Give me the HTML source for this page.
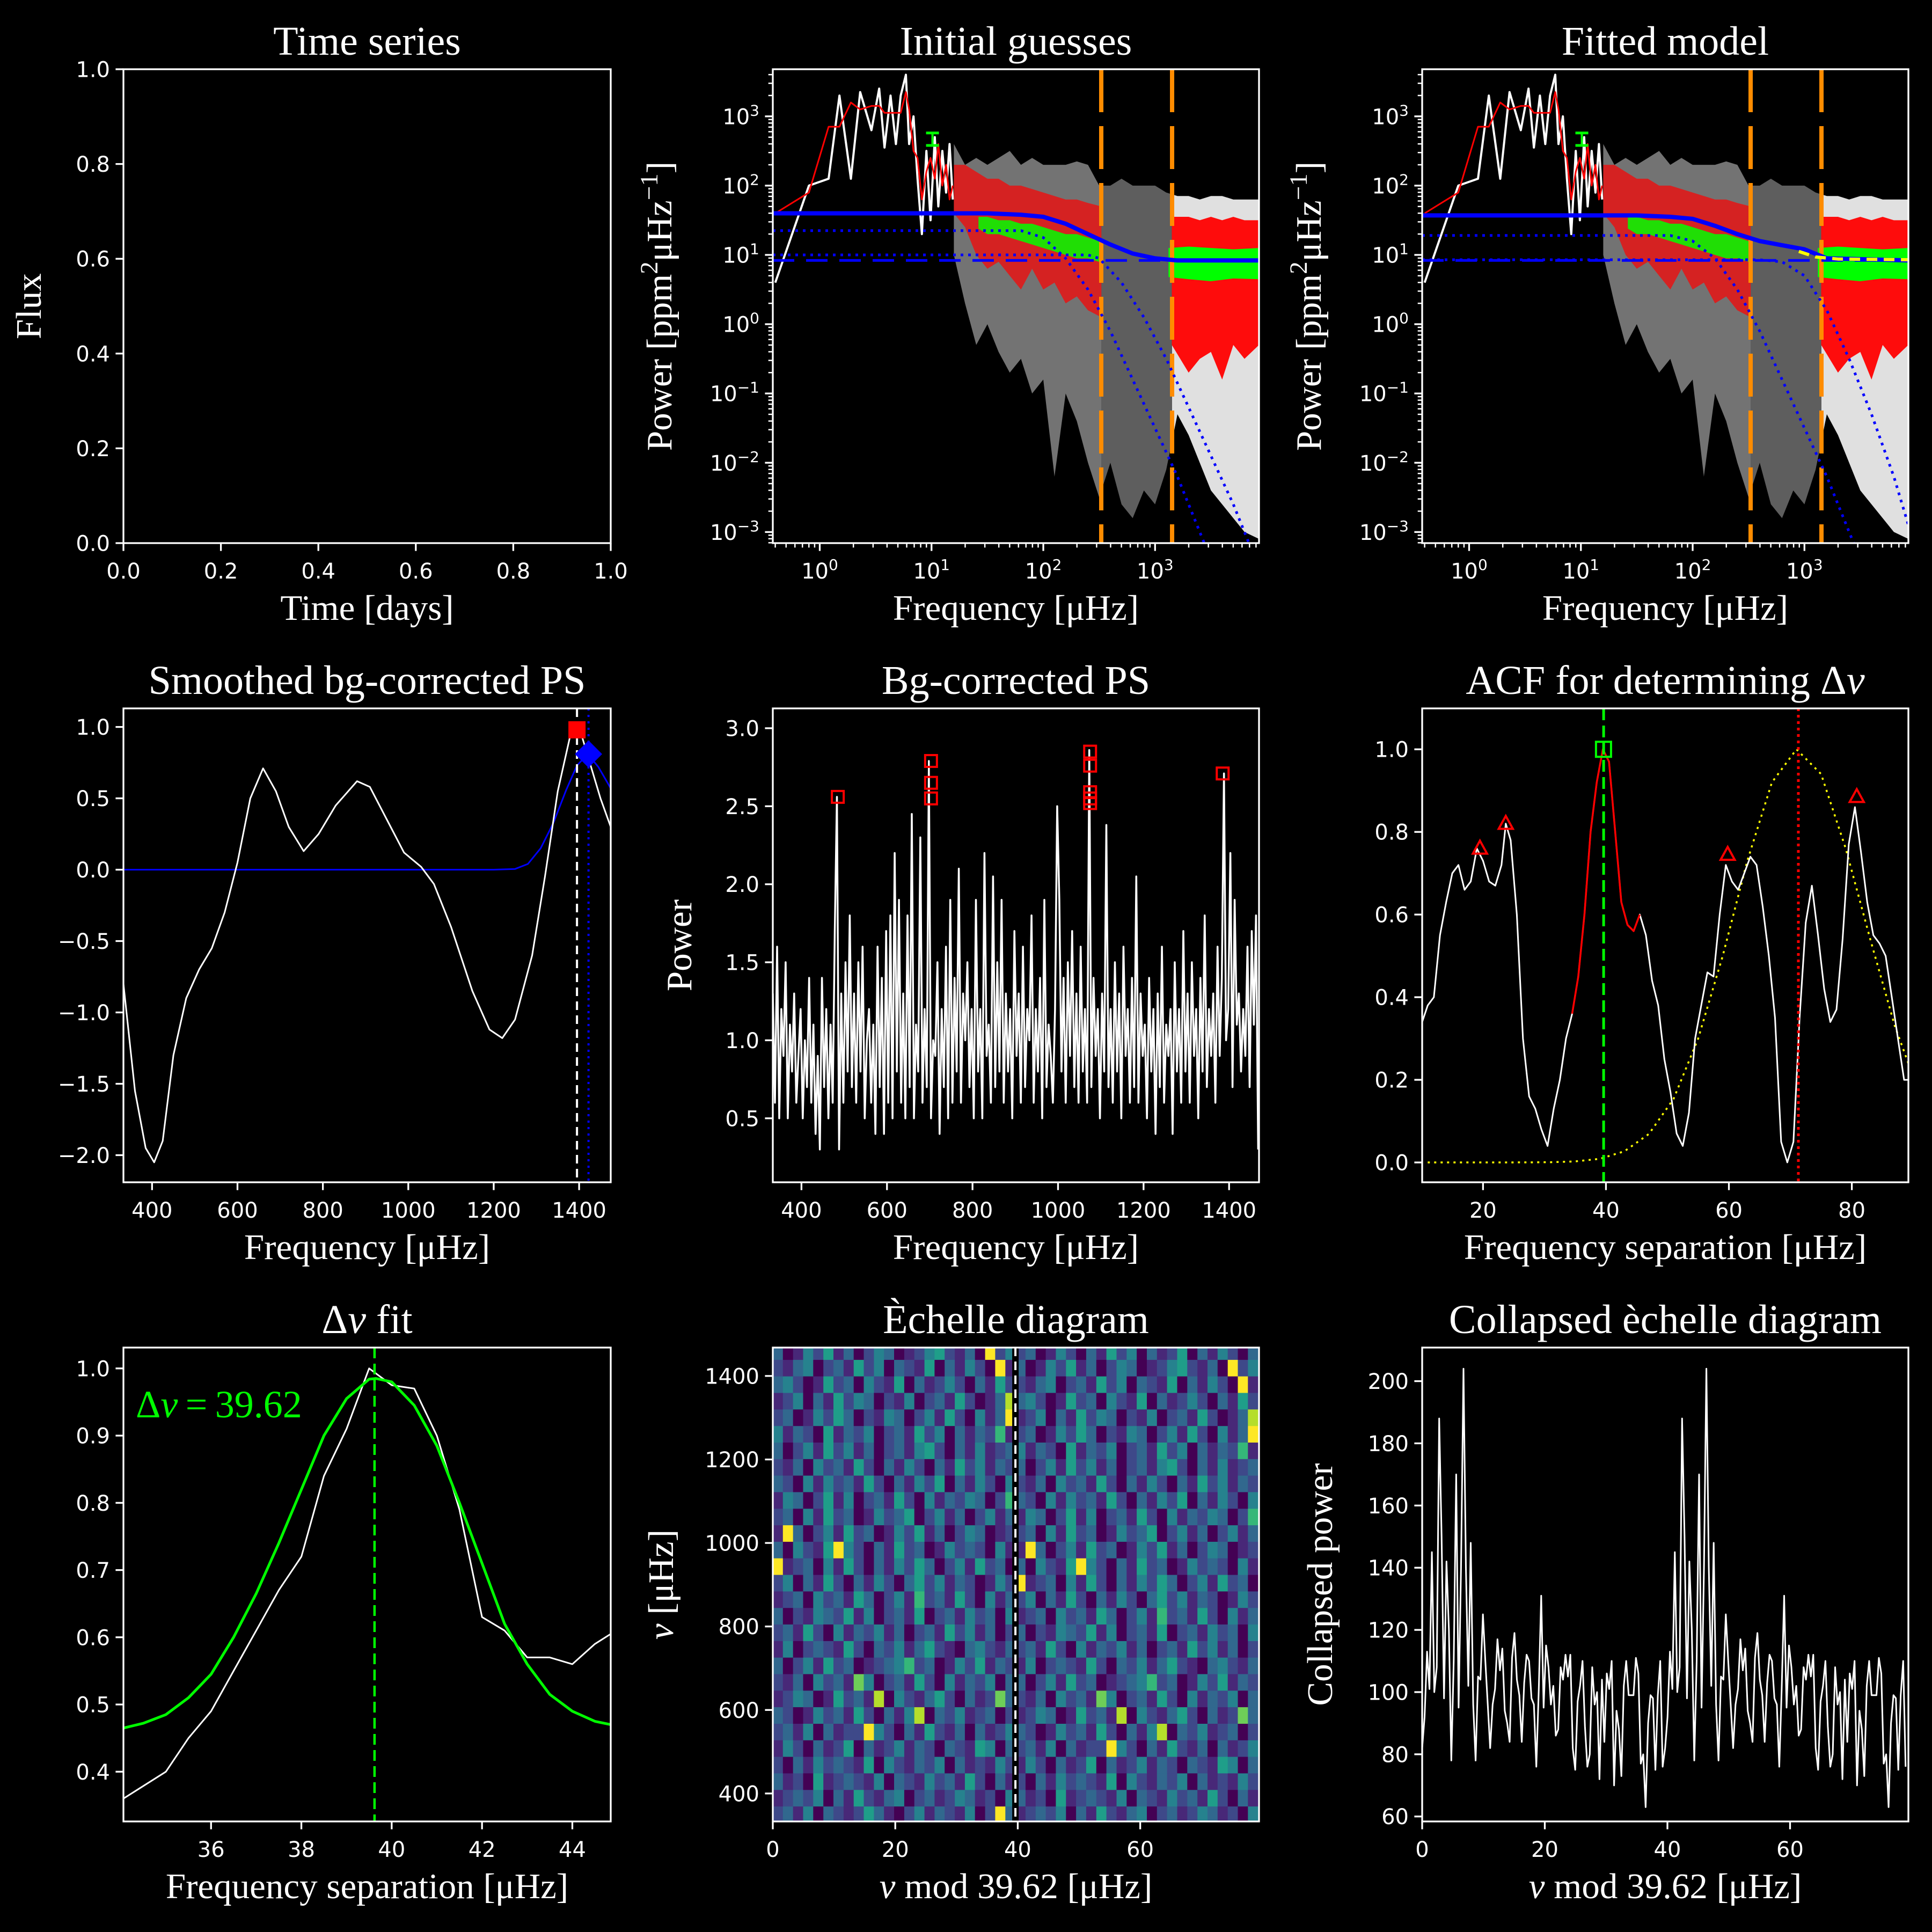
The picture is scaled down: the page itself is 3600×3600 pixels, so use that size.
<!DOCTYPE html>
<html><head><meta charset="utf-8"><title>Seismic analysis panels</title>
<style>html,body{margin:0;padding:0;background:#000;}svg{display:block;}</style>
</head><body>
<svg id="fig" xmlns="http://www.w3.org/2000/svg" width="3600" height="3600" viewBox="0 0 3600 3600">
<rect x="0" y="0" width="3600" height="3600" fill="#000"/>
</svg>
<script>
// ---------- DATA ----------
const lowFreq = [0.4,0.8,1.2,1.5,1.9,2.3,2.9,3.4,3.8,4.3,4.8,5.3,5.9,6.3,6.9,7.5,8.2,9.0,9.8,10.7,11.5,12.5,13.5,14.5,15.5];
const lowWhite = [0.6,2.0,2.1,3.3,2.1,3.35,2.8,3.4,2.55,3.3,2.6,3.3,3.6,2.6,3.0,2.1,1.3,2.5,1.5,2.7,1.7,2.5,1.9,2.6,1.8];
const lowRed = [1.6,1.9,2.85,2.85,3.2,3.1,3.15,3.15,3.05,3.05,3.05,3.05,3.35,3.1,2.5,2.4,1.8,2.2,2.4,2.1,2.6,2.0,2.3,1.8,2.0];
const binLogF = [1.2,1.3,1.4,1.5,1.6,1.7,1.8,1.9,2.0,2.1,2.2,2.3,2.4,2.5,2.6,2.7,2.8,2.9,3.0,3.1,3.2,3.3,3.4,3.5,3.6,3.7,3.8,3.93];
const whiteMax = [2.6,2.3,2.4,2.3,2.4,2.5,2.3,2.4,2.3,2.3,2.3,2.35,2.3,2.0,2.0,2.1,2.0,2.0,2.0,1.9,1.85,1.85,1.8,1.85,1.85,1.8,1.8,1.8];
const whiteMin = [1.0,0.3,-0.3,0.0,-0.4,-0.7,-0.5,-1.0,-0.8,-2.2,-1.0,-1.4,-2.0,-2.5,-2.0,-2.6,-2.8,-2.4,-2.6,-2.1,-1.3,-1.6,-2.0,-2.4,-2.6,-2.8,-3.0,-3.1];
const redLoF = [1.2,1.3,1.4,1.5,1.6,1.7,1.8,1.9,2.0,2.1,2.2,2.3,2.4,2.52];
const redLoMax = [2.3,2.3,2.2,2.1,2.1,2.0,2.0,1.95,1.9,1.85,1.8,1.8,1.75,1.7];
const redLoMin = [1.6,1.4,1.0,0.8,0.9,0.7,0.5,0.8,0.5,0.6,0.3,0.4,0.2,0.1];
const redHiF = [3.15,3.3,3.4,3.5,3.6,3.7,3.8,3.93];
const redHiMax = [1.55,1.55,1.5,1.55,1.5,1.55,1.5,1.5];
const redHiMin = [-0.3,-0.7,-0.5,-0.4,-0.8,-0.3,-0.5,-0.3];
const grnLoF = [1.42,1.5,1.6,1.7,1.8,1.9,2.0,2.1,2.2,2.3,2.4,2.5];
const grnLoMax = [1.55,1.55,1.5,1.5,1.45,1.45,1.4,1.35,1.3,1.3,1.25,1.2];
const grnLoMin = [1.38,1.3,1.3,1.25,1.2,1.15,1.1,1.05,1.0,0.95,0.95,0.9];
const grnHiF = [3.12,3.3,3.5,3.7,3.93];
const grnHiMax = [1.1,1.12,1.1,1.08,1.1];
const grnHiMin = [0.68,0.65,0.62,0.66,0.65];
const numaxRange = [330,1420];
const errBar = [10.2, 2.58, 2.76];
const initTotF = [-0.42,1.0,1.5,1.8,2.0,2.2,2.4,2.6,2.8,3.0,3.2,3.93];
const initTotP = [1.6,1.6,1.6,1.58,1.55,1.45,1.3,1.15,1.02,0.95,0.92,0.92];
const initC1F = [-0.42,1.8,2.0,2.2,2.4,2.6,2.8,3.0,3.2,3.4,3.55];
const initC1P = [1.35,1.35,1.25,0.95,0.5,-0.1,-0.8,-1.5,-2.2,-3.0,-3.6];
const initC2F = [-0.42,2.4,2.5,2.7,2.9,3.1,3.3,3.5,3.7,3.85];
const initC2P = [1.0,1.0,0.95,0.6,0.1,-0.5,-1.2,-1.9,-2.6,-3.2];
const whiteNoise1 = 0.92;
const fitTotF = [-0.42,1.0,1.5,1.8,2.0,2.2,2.4,2.6,2.8,3.0,3.2,3.93];
const fitTotP = [1.57,1.57,1.57,1.55,1.52,1.42,1.3,1.2,1.14,1.08,0.95,0.92];
const fitC1F = [-0.42,1.8,2.0,2.2,2.4,2.6,2.8,3.0,3.2,3.4,3.55];
const fitC1P = [1.28,1.28,1.2,0.95,0.5,-0.1,-0.8,-1.5,-2.2,-3.0,-3.6];
const fitC2F = [-0.42,2.6,2.8,3.0,3.2,3.4,3.6,3.8,3.93];
const fitC2P = [0.93,0.93,0.9,0.7,0.2,-0.5,-1.3,-2.2,-2.9];
const fitYelF = [2.95,3.1,3.3,3.93];
const fitYelP = [1.05,0.97,0.94,0.93];
const smF = [333,360,385,405,425,450,480,510,540,570,600,630,660,690,720,755,790,830,880,910,950,990,1030,1060,1100,1150,1190,1220,1250,1290,1320,1350,1380,1400,1420,1450,1474];
const smV = [-0.8,-1.55,-1.95,-2.05,-1.9,-1.3,-0.9,-0.7,-0.55,-0.3,0.05,0.5,0.71,0.55,0.3,0.13,0.25,0.45,0.62,0.58,0.35,0.12,0.02,-0.1,-0.4,-0.85,-1.12,-1.18,-1.05,-0.6,-0.05,0.55,0.95,1.0,0.8,0.5,0.3];
const gaussF = [333,1200,1250,1280,1310,1340,1370,1395,1420,1445,1474];
const gaussV = [0,0,0.005,0.04,0.15,0.33,0.56,0.73,0.81,0.72,0.57];
const smPeak = [1395,0.98];
const numaxFit = [1422,0.81];
const psStart = 333, psStep = 5;
const psVals = [1.3,0.6,1.6,0.5,1.2,0.9,1.5,0.5,1.1,0.8, 1.3,0.6,0.9,1.2,0.5,1.0,0.7,1.4,0.6,1.1, 0.4,0.9,0.3,1.4,0.7,1.2,0.5,1.1,0.6,1.7,
 2.56,0.3,1.3,0.6,1.5,0.8,1.8,0.7,1.3,0.6, 1.5,0.8,1.6,0.5,1.0,1.2,0.6,1.1,0.4,1.6, 0.7,1.4,0.4,1.7,0.6,1.8,0.5,2.2,0.8,1.9,
 0.6,1.3,0.5,1.8,0.7,2.45,0.5,1.1,0.8,2.3, 0.6,1.2,0.7,2.79,0.5,1.0,0.9,1.5,0.4,1.2, 0.7,1.6,0.5,1.9,0.6,1.4,0.8,2.1,0.6,1.3,
 1.0,1.5,0.7,1.2,0.5,1.9,0.8,1.2,0.5,2.2, 0.9,1.1,0.6,2.05,0.7,1.5,0.8,1.9,0.6,1.3, 0.8,1.2,0.5,1.7,0.9,1.3,0.6,1.6,0.7,1.2,
 1.0,1.8,0.6,1.2,0.8,1.4,0.5,1.9,0.7,1.1, 0.9,0.6,1.2,2.5,1.9,0.8,1.4,0.6,1.5,0.9, 1.7,0.7,1.3,0.6,1.6,0.8,1.2,0.6,2.86,0.7,
 1.4,0.9,1.2,0.5,1.3,0.8,2.38,0.7,1.2,0.6, 1.5,0.8,1.3,0.5,1.6,0.9,1.2,0.6,1.4,0.7, 2.05,0.6,1.3,0.9,1.1,0.5,1.4,0.8,1.2,0.4,
 1.3,0.7,1.6,0.6,1.1,0.9,1.2,0.4,1.5,0.8, 1.2,0.6,1.7,0.8,1.3,0.6,1.5,0.9,1.2,0.5, 1.4,0.8,1.8,0.7,1.2,0.9,1.3,0.6,1.6,0.9,
 1.4,2.71,1.0,1.2,2.2,0.7,1.9,1.1,1.3,0.8, 1.2,0.9,1.6,0.7,1.7,1.1,1.8,0.3];
const peakF = [485,703,703,703,1075,1075,1075,1075,1075,1385];
const peakP = [2.56,2.79,2.65,2.55,2.85,2.76,2.59,2.55,2.52,2.71];
const acfX = [10.1,11,12,13,14,15,16,17,18,19,20,21,22,23,23.7,24.5,25.5,26.5,27.5,28.5,29.5,30.5,31.5,32.5,33.5,34.5,35.5,36.5,37.5,38.5,39.5,40.5,41.5,42.5,43.5,44.5,45.5,46.5,47.5,48.5,49.5,50.5,51.5,52.5,53.5,54.5,55.5,56.5,57.5,58.5,59.5,60.5,61.5,62.5,63.5,64.5,65.5,66.5,67.5,68.5,69.5,70.5,71.5,72.5,73.5,74.5,75.5,76.5,77.5,78.5,79.5,80.5,81.5,82.5,83.5,84.5,85.5,86.5,87.5,88.5,89.2];
const acfY = [0.34,0.38,0.4,0.55,0.63,0.7,0.72,0.66,0.68,0.76,0.73,0.68,0.67,0.72,0.82,0.78,0.6,0.3,0.16,0.13,0.08,0.04,0.13,0.2,0.3,0.36,0.45,0.6,0.8,0.92,1.0,0.97,0.8,0.63,0.575,0.56,0.6,0.55,0.44,0.38,0.25,0.17,0.07,0.04,0.12,0.3,0.38,0.46,0.45,0.6,0.72,0.68,0.66,0.7,0.74,0.72,0.62,0.5,0.35,0.05,0.0,0.05,0.35,0.58,0.67,0.55,0.42,0.34,0.37,0.54,0.77,0.86,0.75,0.63,0.55,0.53,0.5,0.4,0.3,0.2,0.2];
const acfRedRange = [34.4,45.5];
const envX = [11,15,19,23,27,31,35,39,43,47,51,55,59,63,67,71,75,79,83,87,89.2];
const envY = [0,0,0,0.0001,0.0002,0.0006,0.0025,0.0088,0.027,0.069,0.154,0.30,0.50,0.73,0.92,1.0,0.94,0.76,0.54,0.33,0.24];
const acfPeaksX = [19.5,23.7,59.8,80.8];
const acfPeaksY = [0.76,0.82,0.745,0.885];
const dnuGuess = 39.62, dnuBest = [39.6,1.0], numaxLine = 71.3;
const fitX = [34.06,35,35.5,36,36.5,37,37.5,38,38.5,39,39.5,40,40.5,41,41.5,42,42.5,43,43.5,44,44.5,44.85];
const fitY = [0.36,0.40,0.45,0.49,0.55,0.61,0.67,0.72,0.84,0.91,1.0,0.975,0.97,0.9,0.79,0.63,0.61,0.57,0.57,0.56,0.59,0.605];
const gfitX = [34.06,34.5,35,35.5,36,36.5,37,37.5,38,38.5,39,39.5,39.65,40,40.5,41,41.5,42,42.5,43,43.5,44,44.5,44.85];
const gfitY = [0.465,0.472,0.485,0.51,0.545,0.6,0.665,0.74,0.82,0.9,0.955,0.984,0.985,0.98,0.945,0.885,0.8,0.71,0.62,0.56,0.515,0.49,0.475,0.47];
const dnuValue = 39.62;
const echStart = 330;
const echRows = ["231403212531024132140293","123240315213402312431204","312051232140321423152031","203142321504213240312142","142031250312413203215403",
"231403122942031521303124","320142315203148032412302","124301523180421352031273","213042317402315204132403","302415230123462301425132",
"140232152032413521034213","231520413241302315241302","302143251402315023142304","123042315302416231520413","240315203142035241320142",
"912304152031425302415230","304215942031523014232041","193024152301425130243012","230415230142350241302413","143025140231520413243026",
"320414231520314250314204","213042315203142031524132","302415241302314520314123","413205132402315240313261","230142530214302415204139",
"124031524302140231520138","342015230421503124203152","213402315240321503142091","301425130243012452130924","230142031524031250314203"];
const colVals = [82,92,113,101,145,100,108,188,150,98,142,120,78,110,170,95,140,204,140,102,148,96,78,105,104,125,110,96,82,96,101,117,107,114,94,90,84,111,119,104,99,84,103,112,110,98,96,76,101,131,95,115,108,96,102,86,88,108,104,112,105,112,82,75,97,102,110,89,76,80,108,96,100,72,104,84,106,101,110,70,94,88,73,102,110,99,99,99,111,106,77,80,63,90,99,98,75,99,110,76];

// ---------- DRAWING ----------
const NS='http://www.w3.org/2000/svg';
const svg=document.getElementById('fig');
const SANS='"DejaVu Sans","Liberation Sans",sans-serif';
const SERIF='"Liberation Serif","DejaVu Serif",serif';
const VIR=['#440154','#482878','#3e4989','#31688e','#26828e','#1f9e89','#35b779','#6ece58','#b5de2b','#fde725'];
function mk(parent,tag,attrs,name){
  const el=document.createElementNS(NS,tag);
  for(const k in attrs){el.setAttribute(k,attrs[k]);}
  
  
  parent.appendChild(el);
  return el;
}
function text(parent,x,y,parts,o,name){
  const attrs={x:x,y:y,'text-anchor':o.anchor||'middle','font-size':o.size,'font-family':o.fam||SANS,fill:o.fill||'#fff'};
  if(o.rot){attrs.transform='rotate(-90 '+x+' '+y+')';}
  const t=mk(parent,'text',attrs,name);
  parts.forEach(function(pt){
    if(typeof pt==='string'){t.appendChild(document.createTextNode(pt));}
    else{
      const a={};
      if(pt.sup){a['baseline-shift']='super';a['font-size']=Math.round(o.size*0.7);}
      if(pt.it){a['font-style']='italic';}
      const s=mk(t,'tspan',a,name+'-part');
      s.textContent=pt.t;
    }
  });
  return t;
}
let clipN=0;
function panel(name,px0,px1,py0,py1,dx0,dx1,dy0,dy1){
  const g=mk(svg,'g',{},name);
  const p={g:g,px0:px0,px1:px1,py0:py0,py1:py1};
  p.sx=function(v){return px0+(v-dx0)/(dx1-dx0)*(px1-px0);};
  p.sy=function(v){return py1-(v-dy0)/(dy1-dy0)*(py1-py0);};
  const id='clip'+(clipN++);
  const cp=mk(g,'clipPath',{id:id},name+'-clip');
  mk(cp,'rect',{x:px0,y:py0,width:px1-px0,height:py1-py0},name+'-clip-rect');
  p.data=mk(g,'g',{'clip-path':'url(#'+id+')'},name+'-plot-area');
  return p;
}
function frame(p,name){
  mk(p.g,'rect',{x:p.px0,y:p.py0,width:p.px1-p.px0,height:p.py1-p.py0,fill:'none',stroke:'#fff','stroke-width':3.3},name+'-frame');
}
function xTicks(p,vals,labels,name){
  vals.forEach(function(v,i){
    const x=p.sx(v);
    mk(p.g,'line',{x1:x,x2:x,y1:p.py1,y2:p.py1+14.6,stroke:'#fff','stroke-width':3.3},name+'-tick');
    text(p.g,x,p.py1+66,labels[i],{size:40},name+'-tick-label');
  });
}
function yTicks(p,vals,labels,name){
  vals.forEach(function(v,i){
    const y=p.sy(v);
    mk(p.g,'line',{x1:p.px0-14.6,x2:p.px0,y1:y,y2:y,stroke:'#fff','stroke-width':3.3},name+'-tick');
    text(p.g,p.px0-25,y+14.5,labels[i],{size:40,anchor:'end'},name+'-tick-label');
  });
}
function minorX(p,vals,name){vals.forEach(function(v){const x=p.sx(v);mk(p.g,'line',{x1:x,x2:x,y1:p.py1,y2:p.py1+8.3,stroke:'#fff','stroke-width':2.5},name+'-minor-tick');});}
function minorY(p,vals,name){vals.forEach(function(v){const y=p.sy(v);mk(p.g,'line',{x1:p.px0-8.3,x2:p.px0,y1:y,y2:y,stroke:'#fff','stroke-width':2.5},name+'-minor-tick');});}
function title(p,parts,name){text(p.g,(p.px0+p.px1)/2,p.py0-27,parts,{size:76,fam:SERIF},name);}
function xlabel(p,parts,name){text(p.g,(p.px0+p.px1)/2,p.py1+143,parts,{size:67,fam:SERIF},name);}
function ylabel(p,x,parts,name){text(p.g,x,(p.py0+p.py1)/2,parts,{size:67,fam:SERIF,rot:true},name);}
function pts(p,xs,ys){return xs.map(function(x,i){return p.sx(x).toFixed(1)+','+p.sy(ys[i]).toFixed(1);}).join(' ');}
function line(p,xs,ys,st,name){
  const a={points:pts(p,xs,ys),fill:'none',stroke:st.c,'stroke-width':st.w||3,'stroke-linejoin':'round'};
  if(st.dash){a['stroke-dasharray']=st.dash;}
  if(st.cap){a['stroke-linecap']=st.cap;}
  return mk(p.data,'polyline',a,name);
}
function band(p,xs,hi,lo,color,name,clip,op){
  const up=xs.map(function(x,i){return p.sx(x).toFixed(1)+','+p.sy(hi[i]).toFixed(1);});
  const dn=xs.map(function(x,i){return p.sx(x).toFixed(1)+','+p.sy(lo[i]).toFixed(1);}).reverse();
  const a={points:up.concat(dn).join(' '),fill:color,stroke:'none','fill-opacity':op||1};
  if(clip){a['clip-path']=clip;}
  return mk(p.data,'polygon',a,name);
}
function vline(p,x,st,name){
  const a={x1:p.sx(x),x2:p.sx(x),y1:p.py0,y2:p.py1,stroke:st.c,'stroke-width':st.w};
  if(st.dash){a['stroke-dasharray']=st.dash;}
  return mk(p.data,'line',a,name);
}
function marker(p,x,y,shape,st,name){
  const cx=p.sx(x),cy=p.sy(y),s=st.s;
  if(shape==='square'){return mk(p.data,'rect',{x:cx-s/2,y:cy-s/2,width:s,height:s,fill:st.fill||'none',stroke:st.c,'stroke-width':st.w},name);}
  let d;
  if(shape==='tri'){d=[[cx,cy-s*0.6],[cx+s*0.55,cy+s*0.4],[cx-s*0.55,cy+s*0.4]];}
  else {d=[[cx,cy-s*0.6],[cx+s*0.6,cy],[cx,cy+s*0.6],[cx-s*0.6,cy]];}
  return mk(p.data,'polygon',{points:d.map(function(q){return q.join(',');}).join(' '),fill:st.fill||'none',stroke:st.c,'stroke-width':st.w},name);
}
const COLS=[[230,1138],[1440,2346],[2650,3556]];
const ROWS=[[129,1012],[1320,2203],[2511,3394]];
function fmt1(v){return (v<0?'\u2212':'')+Math.abs(v).toFixed(1);}
function range(a,b,s){const r=[];for(let v=a;v<=b+1e-9;v+=s){r.push(Math.round(v*1000)/1000);}return r;}

(function(){
  const p=panel('time-series-panel',COLS[0][0],COLS[0][1],ROWS[0][0],ROWS[0][1],0,1,0,1);
  const t=range(0,1,0.2);
  xTicks(p,t,t.map(function(v){return [v.toFixed(1)];}),'time-x');
  yTicks(p,t,t.map(function(v){return [v.toFixed(1)];}),'flux-y');
  frame(p,'time-series');
  title(p,['Time series'],'time-series-title');
  xlabel(p,['Time [days]'],'time-x-axis-title');
  ylabel(p,76,['Flux'],'flux-y-axis-title');
})();

function logPanel(col,name,ttl,model){
  const p=panel(name,COLS[col][0],COLS[col][1],ROWS[0][0],ROWS[0][1],-0.42,3.93,-3.16,3.68);
  const lo=Math.log10(numaxRange[0]),hi=Math.log10(numaxRange[1]);
  const cidL=name+'-left',cidR=name+'-right',cidI=name+'-inside';
  const c1=mk(p.g,'clipPath',{id:cidL},name+'-left-clip');
  mk(c1,'rect',{x:p.px0,y:p.py0,width:p.sx(lo)-p.px0,height:p.py1-p.py0},name+'-clip-left');
  const c3=mk(p.g,'clipPath',{id:cidR},name+'-right-clip');
  mk(c3,'rect',{x:p.sx(hi),y:p.py0,width:p.px1-p.sx(hi),height:p.py1-p.py0},name+'-clip-right');
  const c2=mk(p.g,'clipPath',{id:cidI},name+'-inside-clip');
  mk(c2,'rect',{x:p.sx(lo),y:p.py0,width:p.sx(hi)-p.sx(lo),height:p.py1-p.py0},name+'-clip-mid');
  const lf=lowFreq.map(function(f){return Math.log10(f);});
  line(p,lf,lowWhite,{c:'#fff',w:4},name+'-raw-spectrum-low');
  band(p,binLogF,whiteMax,whiteMin,'#ffffff',name+'-raw-spectrum','url(#'+cidL+')',0.45);
  band(p,binLogF,whiteMax,whiteMin,'#ffffff',name+'-raw-spectrum-high','url(#'+cidR+')',0.88);
  band(p,binLogF,whiteMax,whiteMin,'#6e6e6e',name+'-raw-spectrum-numax-range','url(#'+cidI+')',0.85);
  line(p,lf,lowRed,{c:'#ff0000',w:3},name+'-smoothed-spectrum-low');
  band(p,redLoF,redLoMax,redLoMin,'#ff0000',name+'-smoothed-spectrum',null,0.7);
  band(p,redHiF,redHiMax,redHiMin,'#ff0000',name+'-smoothed-spectrum-high',null,0.95);
  band(p,grnLoF,grnLoMax,grnLoMin,'#00ff00',name+'-binned-spectrum',null,0.85);
  band(p,grnHiF,grnHiMax,grnHiMin,'#00ff00',name+'-binned-spectrum-high');
  const ex=p.sx(Math.log10(errBar[0]));
  mk(p.data,'line',{x1:ex,x2:ex,y1:p.sy(errBar[1]),y2:p.sy(errBar[2]),stroke:'#00ff00','stroke-width':4},name+'-error-bar');
  mk(p.data,'line',{x1:ex-12,x2:ex+12,y1:p.sy(errBar[1]),y2:p.sy(errBar[1]),stroke:'#00ff00','stroke-width':5},name+'-error-cap');
  mk(p.data,'line',{x1:ex-12,x2:ex+12,y1:p.sy(errBar[2]),y2:p.sy(errBar[2]),stroke:'#00ff00','stroke-width':5},name+'-error-cap');
  vline(p,lo,{c:'#ff8c00',w:8,dash:'80 26'},name+'-numax-lower-bound');
  vline(p,hi,{c:'#ff8c00',w:8,dash:'80 26'},name+'-numax-upper-bound');
  line(p,model.c1f,model.c1p,{c:'#0000ff',w:5,dash:'5 9'},name+'-harvey-1');
  line(p,model.c2f,model.c2p,{c:'#0000ff',w:5,dash:'5 9'},name+'-harvey-2');
  line(p,[-0.42,3.93],[whiteNoise1,whiteNoise1],{c:'#0000ff',w:5,dash:'40 22'},name+'-white-noise');
  line(p,model.tf,model.tp,{c:'#0000ff',w:8},name+'-total-model');
  if(model.yf){line(p,model.yf,model.yp,{c:'#ffff00',w:6,dash:'20 12'},name+'-fit-yellow');}
  const maj=[0,1,2,3];
  xTicks(p,maj,maj.map(function(k){return ['10',{t:String(k),sup:true}];}),name+'-x');
  const mx=[];for(let d=-1;d<=3;d++){for(let k=2;k<=9;k++){const v=d+Math.log10(k);if(v>-0.42&&v<3.93)mx.push(v);}}
  minorX(p,mx,name+'-x');
  const ym=[-3,-2,-1,0,1,2,3];
  yTicks(p,ym,ym.map(function(k){return ['10',{t:(k<0?'\u2212':'')+Math.abs(k),sup:true}];}),name+'-y');
  const my=[];for(let d=-4;d<=3;d++){for(let k=2;k<=9;k++){const v=d+Math.log10(k);if(v>-3.16&&v<3.68)my.push(v);}}
  minorY(p,my,name+'-y');
  frame(p,name);
  title(p,[ttl],name+'-title');
  xlabel(p,['Frequency [\u03bcHz]'],name+'-x-axis-title');
  ylabel(p,COLS[col][0]-189,['Power [ppm',{t:'2',sup:true},'\u03bcHz',{t:'\u22121',sup:true},']'],name+'-y-axis-title');
}
logPanel(1,'initial-guesses-panel','Initial guesses',{tf:initTotF,tp:initTotP,c1f:initC1F,c1p:initC1P,c2f:initC2F,c2p:initC2P});
logPanel(2,'fitted-model-panel','Fitted model',{tf:fitTotF,tp:fitTotP,c1f:fitC1F,c1p:fitC1P,c2f:fitC2F,c2p:fitC2P,yf:fitYelF,yp:fitYelP});

(function(){
  const p=panel('smoothed-ps-panel',COLS[0][0],COLS[0][1],ROWS[1][0],ROWS[1][1],333,1474,-2.19,1.13);
  line(p,gaussF,gaussV,{c:'#0000ff',w:3},'numax-gaussian-fit');
  line(p,smF,smV,{c:'#fff',w:3},'smoothed-ps-line');
  vline(p,smPeak[0],{c:'#fff',w:4,dash:'16 10'},'numax-smoothed-line');
  vline(p,numaxFit[0],{c:'#0000ff',w:4,dash:'4 8'},'numax-fit-line');
  marker(p,smPeak[0],smPeak[1],'square',{s:30,c:'#ff0000',w:2,fill:'#ff0000'},'smoothed-peak-marker');
  marker(p,numaxFit[0],numaxFit[1],'diamond',{s:40,c:'#0000ff',w:2,fill:'#0000ff'},'numax-fit-marker');
  const xt=range(400,1400,200);
  xTicks(p,xt,xt.map(function(v){return [String(v)];}),'smoothed-x');
  const yt=range(-2,1,0.5);
  yTicks(p,yt,yt.map(function(v){return [fmt1(v)];}),'smoothed-y');
  frame(p,'smoothed-ps');
  title(p,['Smoothed bg-corrected PS'],'smoothed-ps-title');
  xlabel(p,['Frequency [\u03bcHz]'],'smoothed-x-axis-title');
})();

(function(){
  const p=panel('bg-corrected-ps-panel',COLS[1][0],COLS[1][1],ROWS[1][0],ROWS[1][1],333,1470,0.09,3.127);
  const xs=psVals.map(function(v,i){return psStart+i*psStep;});
  line(p,xs,psVals,{c:'#fff',w:3.5},'bg-corrected-ps-line');
  peakF.forEach(function(f,i){marker(p,f,peakP[i],'square',{s:22,c:'#ff0000',w:4},'peak-marker');});
  const xt=range(400,1400,200);
  xTicks(p,xt,xt.map(function(v){return [String(v)];}),'bgps-x');
  const yt=range(0.5,3.0,0.5);
  yTicks(p,yt,yt.map(function(v){return [v.toFixed(1)];}),'bgps-y');
  frame(p,'bg-corrected-ps');
  title(p,['Bg-corrected PS'],'bg-corrected-ps-title');
  xlabel(p,['Frequency [\u03bcHz]'],'bgps-x-axis-title');
  ylabel(p,1288,['Power'],'bgps-y-axis-title');
})();

(function(){
  const p=panel('acf-panel',COLS[2][0],COLS[2][1],ROWS[1][0],ROWS[1][1],10.1,89.2,-0.048,1.099);
  line(p,envX,envY,{c:'#ffff00',w:3.5,dash:'4 8'},'acf-gaussian-envelope');
  line(p,acfX,acfY,{c:'#fff',w:3},'acf-line');
  const rx=[],ry=[];
  acfX.forEach(function(x,i){if(x>=acfRedRange[0]&&x<=acfRedRange[1]){rx.push(x);ry.push(acfY[i]);}});
  line(p,rx,ry,{c:'#ff0000',w:3.5},'acf-dnu-region');
  vline(p,dnuGuess,{c:'#00ff00',w:5,dash:'22 10'},'dnu-line');
  vline(p,numaxLine,{c:'#ff0000',w:5,dash:'5 7'},'acf-numax-line');
  acfPeaksX.forEach(function(x,i){marker(p,x,acfPeaksY[i],'tri',{s:24,c:'#ff0000',w:4},'acf-peak-marker');});
  marker(p,dnuBest[0],dnuBest[1],'square',{s:28,c:'#00ff00',w:4},'dnu-best-marker');
  const xt=[20,40,60,80];
  xTicks(p,xt,xt.map(function(v){return [String(v)];}),'acf-x');
  const yt=range(0,1,0.2);
  yTicks(p,yt,yt.map(function(v){return [v.toFixed(1)];}),'acf-y');
  frame(p,'acf');
  title(p,['ACF for determining \u0394',{t:'\u03bd',it:true}],'acf-title');
  xlabel(p,['Frequency separation [\u03bcHz]'],'acf-x-axis-title');
})();

(function(){
  const p=panel('dnu-fit-panel',COLS[0][0],COLS[0][1],ROWS[2][0],ROWS[2][1],34.06,44.85,0.326,1.031);
  line(p,fitX,fitY,{c:'#fff',w:3},'dnu-acf-line');
  line(p,gfitX,gfitY,{c:'#00ff00',w:5},'dnu-gaussian-fit');
  vline(p,dnuValue,{c:'#00ff00',w:4.5,dash:'20 10'},'dnu-value-line');
  const xt=[36,38,40,42,44];
  xTicks(p,xt,xt.map(function(v){return [String(v)];}),'dnu-x');
  const yt=range(0.4,1.0,0.1);
  yTicks(p,yt,yt.map(function(v){return [v.toFixed(1)];}),'dnu-y');
  frame(p,'dnu-fit');
  text(p.g,p.px0+23,p.py0+130,['\u0394',{t:'\u03bd',it:true},'\u2009=\u2009'+dnuValue.toFixed(2)],{size:72,fam:SERIF,anchor:'start',fill:'#00ff00'},'dnu-annotation');
  title(p,['\u0394',{t:'\u03bd',it:true},' fit'],'dnu-fit-title');
  xlabel(p,['Frequency separation [\u03bcHz]'],'dnu-x-axis-title');
})();

(function(){
  const p=panel('echelle-panel',COLS[1][0],COLS[1][1],ROWS[2][0],ROWS[2][1],0,79.4,333,1468);
  const nc=echRows[0].length, cw=dnuValue/nc;
  for(let r=0;r<echRows.length-1;r++){
    const y0=echStart+r*dnuValue;
    for(let half=0;half<2;half++){
      const rowStr=echRows[r+half];
      for(let c=0;c<nc;c++){
        const v=+rowStr[c];
        const x0=half*dnuValue+c*cw;
        const X=p.sx(x0),Y=p.sy(y0+dnuValue);
        mk(p.data,'rect',{x:X.toFixed(1),y:Y.toFixed(1),width:(p.sx(x0+cw)-X+0.6).toFixed(1),height:(p.sy(y0)-Y+0.6).toFixed(1),fill:VIR[v]},'echelle-cell');
      }
    }
  }
  vline(p,dnuValue,{c:'#000',w:12},'echelle-gap');
  vline(p,dnuValue,{c:'#fff',w:4,dash:'16 10'},'echelle-dnu-line');
  const xt=[0,20,40,60];
  xTicks(p,xt,xt.map(function(v){return [String(v)];}),'echelle-x');
  const yt=range(400,1400,200);
  yTicks(p,yt,yt.map(function(v){return [String(v)];}),'echelle-y');
  frame(p,'echelle');
  title(p,['\u00c8chelle diagram'],'echelle-title');
  xlabel(p,[{t:'\u03bd',it:true},' mod '+dnuValue.toFixed(2)+' [\u03bcHz]'],'echelle-x-axis-title');
  ylabel(p,1254,[{t:'\u03bd',it:true},' [\u03bcHz]'],'echelle-y-axis-title');
})();

(function(){
  const p=panel('collapsed-echelle-panel',COLS[2][0],COLS[2][1],ROWS[2][0],ROWS[2][1],0,79.3,58.4,210.8);
  const n=colVals.length, step=dnuValue/n, xs=[], ys=[];
  for(let i=0;i<2*n;i++){xs.push(i*step);ys.push(colVals[i%n]);}
  line(p,xs,ys,{c:'#fff',w:3},'collapsed-power-line');
  const xt=[0,20,40,60];
  xTicks(p,xt,xt.map(function(v){return [String(v)];}),'collapsed-x');
  const yt=range(60,200,20);
  yTicks(p,yt,yt.map(function(v){return [String(v)];}),'collapsed-y');
  frame(p,'collapsed-echelle');
  title(p,['Collapsed \u00e8chelle diagram'],'collapsed-echelle-title');
  xlabel(p,[{t:'\u03bd',it:true},' mod '+dnuValue.toFixed(2)+' [\u03bcHz]'],'collapsed-x-axis-title');
  ylabel(p,2482,['Collapsed power'],'collapsed-y-axis-title');
})();
</script>
</body></html>
